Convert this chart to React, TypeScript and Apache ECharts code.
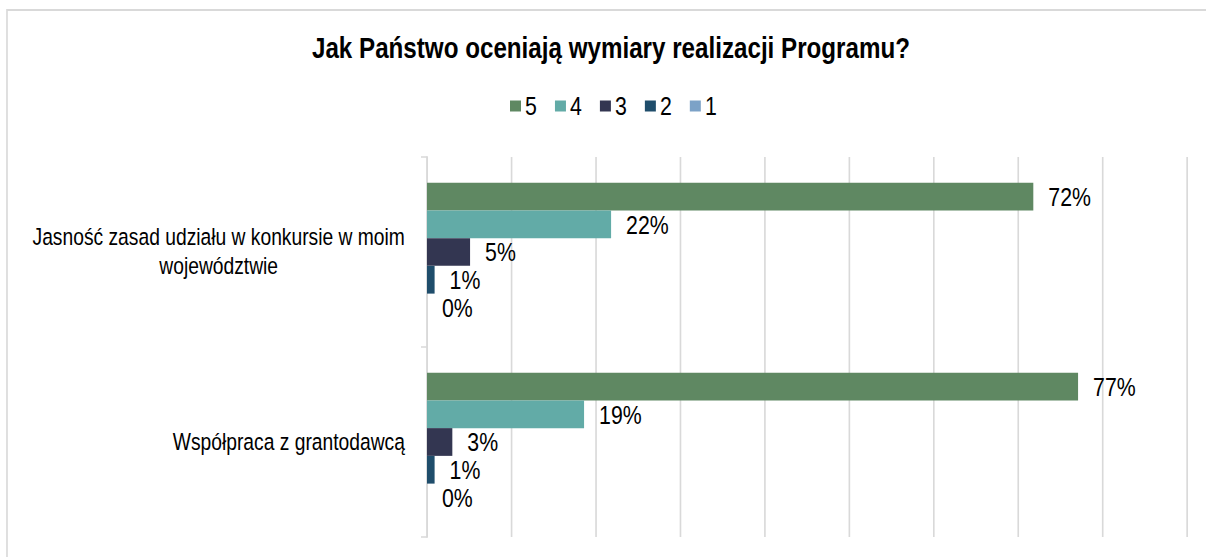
import React, { useEffect, useRef } from "react";
import * as echarts from "echarts";

const titleText = "Jak Państwo oceniają wymiary realizacji Programu?";
const categories = [
  "Jasność zasad udziału w konkursie w moim\nwojewództwie",
  "Współpraca z grantodawcą",
];
const seriesNames = ["5", "4", "3", "2", "1"];
const values5 = [71.8, 77.1];
const values4 = [21.8, 18.6];
const values3 = [5.1, 3.0];
const values2 = [0.9, 0.9];
const values1 = [0, 0];
const seriesValues = [values5, values4, values3, values2, values1];
const seriesColors = ["#5f8862", "#62aba7", "#333651", "#1f4d6b", "#7ca2c7"];

const FONT = "'Liberation Sans', Arial, sans-serif";
// Horizontal compression to mimic a narrow typeface (Arial Narrow)
const SX = 0.82;
const VW = 1206;
const VH = 557;
const CW = Math.round(VW / SX);
const s = CW / VW; // chart units per screen px horizontally
const hx = (px: number) => px * s;

export default function App() {
  const ref = useRef<HTMLDivElement>(null);
  useEffect(() => {
    if (!ref.current) return;
    const chart = echarts.init(ref.current, undefined, { renderer: "svg" });
    chart.setOption({
      animation: false,
      backgroundColor: "#ffffff",
      graphic: [
        {
          type: "rect",
          shape: { x: hx(7), y: 10, width: hx(1240), height: 600 },
          style: { fill: "none", stroke: "#d9d9d9", lineWidth: 2 },
          silent: true,
        },
        {
          type: "text",
          x: hx(611),
          y: 48,
          style: {
            text: titleText,
            fontFamily: FONT,
            fontSize: 29.5,
            fontWeight: "bold",
            fill: "#000",
            align: "center",
            verticalAlign: "middle",
            textAlign: "center",
            textVerticalAlign: "middle",
          },
        },
      ],
      legend: {
        left: hx(510),
        top: 93,
        padding: 0,
        itemWidth: hx(11),
        itemHeight: 11,
        itemGap: hx(18),
        icon: "rect",
        data: seriesNames,
        textStyle: { fontFamily: FONT, fontSize: 26, color: "#000" },
      },
      grid: {
        left: hx(427),
        top: 157,
        width: hx(760),
        height: 380,
        containLabel: false,
        outerBoundsMode: "none",
      },
      xAxis: {
        type: "value",
        min: 0,
        max: 90,
        interval: 10,
        axisLabel: { show: false },
        axisLine: { show: false },
        axisTick: { show: false },
        splitLine: { show: true, lineStyle: { color: "#d9d9d9", width: 2 } },
      },
      yAxis: {
        type: "category",
        inverse: true,
        data: categories,
        axisLine: { show: true, lineStyle: { color: "#d9d9d9", width: 2 } },
        axisTick: { show: true, length: hx(6), lineStyle: { color: "#d9d9d9", width: 1.5 } },
        axisLabel: {
          margin: hx(22),
          align: "right",
          formatter: (v: string) =>
            v
              .split("\n")
              .map((l) => `{c|${l}}`)
              .join("\n"),
          rich: {
            c: {
              align: "center",
              fontFamily: FONT,
              fontSize: 23.5,
              lineHeight: 29,
              color: "#000",
            },
          },
        },
      },
      series: seriesNames.map((name, i) => ({
        name,
        type: "bar",
        data: seriesValues[i],
        barGap: "0%",
        barCategoryGap: "27%",
        itemStyle: { color: seriesColors[i] },
        label: {
          show: true,
          position: "right",
          distance: hx(15),
          fontFamily: FONT,
          fontSize: 26,
          color: "#000",
          formatter: (p: any) => `${Math.round(p.value)}%`,
        },
      })),
    });
    return () => chart.dispose();
  }, []);
  return (
    <div
      style={{
        position: "fixed",
        left: 0,
        top: 0,
        width: VW,
        height: VH,
        overflow: "hidden",
        background: "#fff",
      }}
    >
      <div
        ref={ref}
        style={{
          width: CW,
          height: VH,
          transform: `scaleX(${VW / CW})`,
          transformOrigin: "0 0",
        }}
      />
    </div>
  );
}
